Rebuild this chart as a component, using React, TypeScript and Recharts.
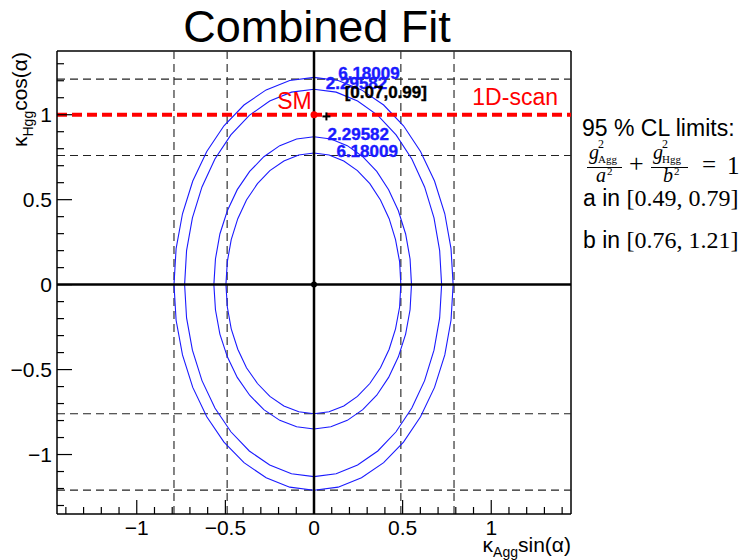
import React from 'react';
import { LineChart, Line, XAxis, YAxis, ReferenceLine, ReferenceDot } from 'recharts';

// axis ranges and ticks (ROOT style: major every 0.5, minor every 0.1)
const X_DOMAIN = [-1.45, 1.45];
const Y_DOMAIN = [-1.35, 1.375];
const X_TICKS = [-1.4, -1.3, -1.2, -1.1, -1, -0.9, -0.8, -0.7, -0.6, -0.5, -0.4, -0.3, -0.2, -0.1, 0,
  0.1, 0.2, 0.3, 0.4, 0.5, 0.6, 0.7, 0.8, 0.9, 1, 1.1, 1.2, 1.3, 1.4];
const Y_TICKS = [-1.3, -1.2, -1.1, -1, -0.9, -0.8, -0.7, -0.6, -0.5, -0.4, -0.3, -0.2, -0.1, 0,
  0.1, 0.2, 0.3, 0.4, 0.5, 0.6, 0.7, 0.8, 0.9, 1, 1.1, 1.2, 1.3];

// 95% CL limits (dashed lines)
const LIMITS_A = [0.49, 0.79];
const LIMITS_B = [0.76, 1.21];

// contour points
const OUTER_618 = [
  [0.785, 0], [0.773, 0.212], [0.738, 0.417], [0.68, 0.61], [0.601, 0.784], [0.505, 0.935], [0.393, 1.057],
  [0.268, 1.146], [0.136, 1.201], [0, 1.22], [-0.137, 1.201], [-0.27, 1.146], [-0.395, 1.057], [-0.508, 0.935],
  [-0.605, 0.784], [-0.684, 0.61], [-0.742, 0.417], [-0.778, 0.212], [-0.79, 0], [-0.778, -0.21], [-0.742, -0.414],
  [-0.684, -0.605], [-0.605, -0.778], [-0.508, -0.927], [-0.395, -1.048], [-0.27, -1.137], [-0.137, -1.192],
  [0, -1.21], [0.136, -1.192], [0.268, -1.137], [0.393, -1.048], [0.505, -0.927], [0.601, -0.778], [0.68, -0.605],
  [0.738, -0.414], [0.773, -0.21], [0.785, 0],
];
const OUTER_229 = [
  [0.72, 0], [0.709, 0.2], [0.677, 0.393], [0.624, 0.575], [0.552, 0.739], [0.463, 0.881], [0.36, 0.996],
  [0.246, 1.081], [0.125, 1.133], [0, 1.15], [-0.127, 1.133], [-0.25, 1.081], [-0.365, 0.996], [-0.469, 0.881],
  [-0.559, 0.739], [-0.632, 0.575], [-0.686, 0.393], [-0.719, 0.2], [-0.73, 0], [-0.719, -0.196], [-0.686, -0.386],
  [-0.632, -0.565], [-0.559, -0.726], [-0.469, -0.866], [-0.365, -0.979], [-0.25, -1.062], [-0.127, -1.113],
  [0, -1.13], [0.125, -1.113], [0.246, -1.062], [0.36, -0.979], [0.463, -0.866], [0.552, -0.726], [0.624, -0.565],
  [0.677, -0.386], [0.709, -0.196], [0.72, 0],
];
const INNER_229 = [
  [0.55, 0], [0.542, 0.151], [0.517, 0.298], [0.476, 0.435], [0.421, 0.559], [0.354, 0.666], [0.275, 0.753],
  [0.188, 0.818], [0.095, 0.857], [0, 0.87], [-0.098, 0.857], [-0.193, 0.818], [-0.283, 0.753], [-0.363, 0.666],
  [-0.433, 0.559], [-0.489, 0.435], [-0.531, 0.298], [-0.556, 0.151], [-0.565, 0], [-0.556, -0.148], [-0.531, -0.291],
  [-0.489, -0.425], [-0.433, -0.546], [-0.363, -0.651], [-0.283, -0.736], [-0.193, -0.799], [-0.098, -0.837],
  [0, -0.85], [0.095, -0.837], [0.188, -0.799], [0.275, -0.736], [0.354, -0.651], [0.421, -0.546], [0.476, -0.425],
  [0.517, -0.291], [0.542, -0.148], [0.55, 0],
];
const INNER_618 = [
  [0.49, 0], [0.483, 0.135], [0.46, 0.265], [0.424, 0.388], [0.375, 0.498], [0.315, 0.594], [0.245, 0.671],
  [0.168, 0.728], [0.085, 0.763], [0, 0.775], [-0.086, 0.763], [-0.17, 0.728], [-0.249, 0.671], [-0.319, 0.594],
  [-0.381, 0.498], [-0.43, 0.388], [-0.467, 0.265], [-0.489, 0.135], [-0.497, 0], [-0.489, -0.132], [-0.467, -0.26],
  [-0.43, -0.38], [-0.381, -0.489], [-0.319, -0.582], [-0.249, -0.658], [-0.17, -0.714], [-0.086, -0.748],
  [0, -0.76], [0.085, -0.748], [0.168, -0.714], [0.245, -0.658], [0.315, -0.582], [0.375, -0.489], [0.424, -0.38],
  [0.46, -0.26], [0.483, -0.132], [0.49, 0],
];

const CONTOUR_LABELS = [
  { x: 0.31, y: 1.247, text: '6.18009' },
  { x: 0.24, y: 1.188, text: '2.29582' },
  { x: 0.25, y: 0.888, text: '2.29582' },
  { x: 0.3, y: 0.785, text: '6.18009' },
];

const BEST_FIT = { x: 0.07, y: 0.99 };
const BEST_LABEL = { x: 0.405, y: 1.135, text: '[0.07,0.99]' };
const SM = { x: 0, y: 1 };
const SM_LABEL = { x: -0.11, y: 1.08, text: 'SM' };
const SCAN_LABEL = { x: 1.135, y: 1.105, text: '1D-scan' };

const SANS = '"Liberation Sans", Arial, Helvetica, sans-serif';
const SERIF = '"Liberation Serif", "Times New Roman", serif';
const BLUE = '#1a1aff';

const toPts = (arr: number[][]) => arr.map(([x, y]) => ({ x, y }));
const isMajor = (v: number) => Math.abs(v * 2 - Math.round(v * 2)) < 1e-6;
const fmt = (v: number) => (Math.abs(v) < 1e-9 ? '0' : (v < 0 ? '\u2212' : '') + String(Math.abs(v)));

function XTick({ x, y, payload }: any) {
  const major = isMajor(payload.value);
  return (
    <g>
      <line x1={x} x2={x} y1={y} y2={y - (major ? 14 : 7)} stroke="#000" strokeWidth={1.2} />
      {major && (
        <text x={x} y={y + 21} textAnchor="middle" fontFamily={SANS} fontSize={21} fill="#000">
          {fmt(payload.value)}
        </text>
      )}
    </g>
  );
}

function YTick({ x, y, payload }: any) {
  const major = isMajor(payload.value);
  return (
    <g>
      <line x1={x} x2={x + (major ? 15 : 7)} y1={y} y2={y} stroke="#000" strokeWidth={1.2} />
      {major && (
        <text x={x - 5} y={y + 7} textAnchor="end" fontFamily={SANS} fontSize={21} fill="#000">
          {fmt(payload.value)}
        </text>
      )}
    </g>
  );
}

const textShape = (text: string, fill: string, size: number, bold: boolean) => (p: any) => (
  <text x={p.cx} y={p.cy + size * 0.36} textAnchor="middle" fontFamily={SANS} fontSize={size}
    fontWeight={bold ? 700 : 400} fill={fill} stroke={bold ? fill : 'none'} strokeWidth={bold ? 0.4 : 0}>
    {text}
  </text>
);

const plusShape = (p: any) => (
  <g stroke="#000" strokeWidth={2}>
    <line x1={p.cx - 4} x2={p.cx + 4} y1={p.cy} y2={p.cy} />
    <line x1={p.cx} x2={p.cx} y1={p.cy - 4} y2={p.cy + 4} />
  </g>
);

export default function App() {
  const contours = [OUTER_618, OUTER_229, INNER_229, INNER_618];
  return (
    <div style={{ position: 'absolute', left: 0, top: 0, width: 746, height: 560, background: '#fff' }}>
      <LineChart width={746} height={560} margin={{ top: 51, right: 175, bottom: 16, left: 7 }}>
        <XAxis dataKey="x" type="number" domain={X_DOMAIN} ticks={X_TICKS} interval={0} allowDataOverflow
          height={30} tick={<XTick />} tickLine={false} tickSize={0} tickMargin={0}
          axisLine={{ stroke: '#000', strokeWidth: 1.5 }} />
        <YAxis type="number" domain={Y_DOMAIN} ticks={Y_TICKS} interval={0} allowDataOverflow
          width={50} tick={<YTick />} tickLine={false} tickSize={0} tickMargin={0}
          axisLine={{ stroke: '#000', strokeWidth: 1.5 }} />

        {/* frame */}
        <ReferenceLine y={Y_DOMAIN[1]} stroke="#000" strokeWidth={1.5} />
        <ReferenceLine x={X_DOMAIN[1]} stroke="#000" strokeWidth={1.5} />

        {/* 95% CL limit lines */}
        {LIMITS_A.flatMap((a) => [-a, a]).map((v) => (
          <ReferenceLine key={'a' + v} x={v} stroke="#333" strokeWidth={1.2} strokeDasharray="8 5" />
        ))}
        {LIMITS_B.flatMap((b) => [-b, b]).map((v) => (
          <ReferenceLine key={'b' + v} y={v} stroke="#222" strokeWidth={1.2} strokeDasharray="8 5" />
        ))}

        {contours.map((c, i) => (
          <Line key={i} data={toPts(c)} dataKey="y" type="linear" stroke={BLUE} strokeWidth={1.1}
            dot={false} activeDot={false} isAnimationActive={false} />
        ))}

        {/* zero axes */}
        <ReferenceLine x={0} stroke="#000" strokeWidth={2.5} />
        <ReferenceLine y={0} stroke="#000" strokeWidth={2.5} />
        <ReferenceDot x={0} y={0} r={3} fill="#000" stroke="none" />

        {/* 1D scan */}
        <ReferenceLine y={SM.y} stroke="#ff0000" strokeWidth={4} strokeDasharray="10 5" />
        <ReferenceDot x={SM.x} y={SM.y} r={3.5} fill="#ff0000" stroke="none" />
        <ReferenceDot x={SM_LABEL.x} y={SM_LABEL.y} r={0} shape={textShape(SM_LABEL.text, '#ff0000', 23, false)} />
        <ReferenceDot x={SCAN_LABEL.x} y={SCAN_LABEL.y} r={0}
          shape={textShape(SCAN_LABEL.text, '#ff0000', 23, false)} />

        {CONTOUR_LABELS.map((l, i) => (
          <ReferenceDot key={'l' + i} x={l.x} y={l.y} r={0} shape={textShape(l.text, BLUE, 17, true)} />
        ))}
        <ReferenceDot x={BEST_FIT.x} y={BEST_FIT.y} r={4} shape={plusShape} />
        <ReferenceDot x={BEST_LABEL.x} y={BEST_LABEL.y} r={0} shape={textShape(BEST_LABEL.text, '#000', 17, true)} />
      </LineChart>

      <svg width={746} height={560} style={{ position: 'absolute', left: 0, top: 0, pointerEvents: 'none' }}>
        <text x={317} y={42} textAnchor="middle" fontFamily={SANS} fontSize={45} fill="#000">Combined Fit</text>

        <text transform="translate(27,52) rotate(-90)" textAnchor="end" fontFamily={SANS} fontSize={21} fill="#000">
          κ<tspan fontSize={14} dy={6}>Hgg</tspan><tspan dy={-6}>cos(α)</tspan>
        </text>
        <text x={571} y={552} textAnchor="end" fontFamily={SANS} fontSize={21} fill="#000">
          κ<tspan fontSize={14} dy={5}>Agg</tspan><tspan dy={-5}>sin(α)</tspan>
        </text>

        {/* limits legend */}
        <text x={582} y={136} fontFamily={SANS} fontSize={23} fill="#000">95 % CL limits:</text>
        <g fontFamily={SERIF} fill="#000">
          <text x={589} y={159} fontStyle="italic" fontSize={20}>g</text>
          <text x={598} y={148} fontSize={12}>2</text>
          <text x={598} y={163} fontSize={11}>Agg</text>
          <line x1={587} x2={622} y1={167.5} y2={167.5} stroke="#000" strokeWidth={1} />
          <text x={596} y={182} fontStyle="italic" fontSize={20}>a</text>
          <text x={607} y={175} fontSize={11}>2</text>
          <text x={629} y={172} fontSize={26}>+</text>
          <text x={653} y={159} fontStyle="italic" fontSize={20}>g</text>
          <text x={662} y={148} fontSize={12}>2</text>
          <text x={662} y={163} fontSize={11}>Hgg</text>
          <line x1={651} x2={688} y1={167.5} y2={167.5} stroke="#000" strokeWidth={1} />
          <text x={663} y={182} fontStyle="italic" fontSize={20}>b</text>
          <text x={674} y={175} fontSize={11}>2</text>
          <text x={702} y={173} fontSize={25}>=</text>
          <text x={727} y={174} fontSize={25}>1</text>
        </g>
        <text x={583} y={206} fontFamily={SANS} fontSize={23} fill="#000">
          a in <tspan fontFamily={SERIF} fontSize={24}>[0.49, 0.79]</tspan>
        </text>
        <text x={583} y={248} fontFamily={SANS} fontSize={23} fill="#000">
          b in <tspan fontFamily={SERIF} fontSize={24}>[0.76, 1.21]</tspan>
        </text>
      </svg>
    </div>
  );
}
